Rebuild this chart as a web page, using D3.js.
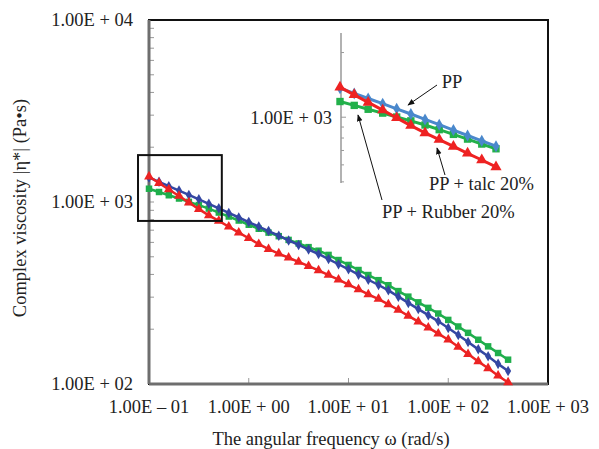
<!DOCTYPE html>
<html>
<head>
<meta charset="utf-8">
<script src="https://cdn.jsdelivr.net/npm/d3@7"></script>
<style>
  html, body { margin: 0; padding: 0; background: #fff; }
  svg { display: block; font-family: "Liberation Serif", "Times New Roman", serif; }
</style>
</head>
<body>
<svg id="chart" width="599" height="449"></svg>
<script>
// Angular frequency sweep (rad/s), 10 points per decade
const omega = [0.1, 0.126, 0.158, 0.2, 0.251, 0.316, 0.398, 0.501, 0.631, 0.794,
  1, 1.26, 1.58, 2, 2.51, 3.16, 3.98, 5.01, 6.31, 7.94,
  10, 12.6, 15.8, 20, 25.1, 31.6, 39.8, 50.1, 63.1, 79.4,
  100, 126, 158, 200, 251, 316, 398];

// Complex viscosity |eta*| (Pa.s)
const etaPP = [1365, 1291, 1222, 1156, 1094, 1035, 977, 923, 871, 822,
  776, 733, 692, 653, 615, 581, 548, 518, 486, 455,
  427, 399, 374, 350, 327, 302, 279, 258, 239, 221,
  203, 186, 170, 155, 142, 129, 118];
const etaTalc = [1380, 1271, 1172, 1079, 993, 914, 845, 787, 731, 679,
  632, 587, 551, 521, 494, 469, 444, 421, 397, 374,
  352, 331, 311, 293, 274, 255, 237, 220, 204, 189,
  175, 160, 146, 133, 122, 111, 102];
const etaRubber = [1183, 1135, 1089, 1045, 1002, 962, 920, 875, 832, 791,
  750, 713, 679, 649, 619, 592, 565, 540, 512, 480,
  451, 423, 397, 372, 349, 324, 302, 281, 262, 244,
  225, 207, 191, 175, 161, 148, 136];

const xTickValues = [0.1, 1, 10, 100, 1000];
const xTickLabels = ["1.00E \u2013 01", "1.00E + 00", "1.00E + 01", "1.00E + 02", "1.00E + 03"];
const yTickValues = [100, 1000, 10000];
const yTickLabels = ["1.00E + 02", "1.00E + 03", "1.00E + 04"];

// Region enlarged in the inset (omega range, viscosity range)
const zoomOmega = [0.0776, 0.537];
const zoomEta = [787, 1810];
const insetPoints = 12;   // first 12 frequencies shown in the inset
const insetEtaDomain = [494, 2466];
const insetTickValues = [500, 600, 700, 800, 900, 1000, 2000];

const FS = 18.5;
const svg = d3.select("#chart");
const x = d3.scaleLog().domain([0.1, 1000]).range([149, 548]);
const y = d3.scaleLog().domain([100, 10000]).range([384, 20]);

const colMain = { pp: "#3447a3", talc: "#ec2323", rubber: "#1fae4c" };
const colInset = { pp: "#4a88cc", talc: "#ee2222", rubber: "#22b04a" };

// frame
svg.append("rect")
  .attr("x", x(0.1)).attr("y", y(10000))
  .attr("width", x(1000) - x(0.1)).attr("height", y(100) - y(10000))
  .attr("fill", "none").attr("stroke", "#111").attr("stroke-width", 2);

// left axis with minor ticks
const yMinor = [];
[100, 1000].forEach(d => { for (let k = 1; k < 10; k++) yMinor.push(d * k); });
svg.append("g").selectAll("line").data(yMinor.filter(v => v > 100)).join("line")
  .attr("x1", x(0.1)).attr("x2", x(0.1) + 5)
  .attr("y1", d => y(d)).attr("y2", d => y(d))
  .attr("stroke", "#999").attr("stroke-width", 1);
svg.append("line")
  .attr("x1", x(0.1)).attr("x2", x(0.1)).attr("y1", y(10000)).attr("y2", y(100))
  .attr("stroke", "#6e6e6e").attr("stroke-width", 3);

// bottom axis
svg.append("g").selectAll("line").data(xTickValues.slice(1, 4)).join("line")
  .attr("x1", d => x(d)).attr("x2", d => x(d))
  .attr("y1", y(100)).attr("y2", y(100) - 6)
  .attr("stroke", "#999").attr("stroke-width", 1);
svg.append("line")
  .attr("x1", x(0.1)).attr("x2", x(1000)).attr("y1", y(100)).attr("y2", y(100))
  .attr("stroke", "#6e6e6e").attr("stroke-width", 3);

// tick labels
svg.append("g").selectAll("text").data(yTickValues).join("text")
  .attr("x", 133).attr("y", d => y(d)).attr("dy", "0.35em")
  .attr("text-anchor", "end").attr("font-size", FS).attr("fill", "#222")
  .text((d, i) => yTickLabels[i]);
svg.append("g").selectAll("text").data(xTickValues).join("text")
  .attr("x", d => x(d)).attr("y", 407).attr("dy", "0.35em")
  .attr("text-anchor", "middle").attr("font-size", FS).attr("fill", "#222")
  .text((d, i) => xTickLabels[i]);

// axis titles
svg.append("text")
  .attr("transform", "translate(20,208) rotate(-90)")
  .attr("text-anchor", "middle").attr("dy", "0.35em")
  .attr("font-size", FS).attr("fill", "#222")
  .text("Complex viscosity |\u03b7*|  (Pa\u2022s)");
svg.append("text")
  .attr("x", 331).attr("y", 439).attr("dy", "0.35em")
  .attr("text-anchor", "middle").attr("font-size", FS).attr("fill", "#222")
  .text("The angular frequency \u03c9  (rad/s)");

// series
const series = [
  { key: "rubber", values: etaRubber, symbol: d3.symbolSquare, size: 42 },
  { key: "pp", values: etaPP, symbol: d3.symbolDiamond, size: 32 },
  { key: "talc", values: etaTalc, symbol: d3.symbolTriangle, size: 42 }
];

function drawSeries(g, sx, sy, n, colors, lw, scale) {
  series.forEach(s => {
    const pts = omega.slice(0, n).map((w, i) => [w, s.values[i]]);
    g.append("path").datum(pts)
      .attr("fill", "none").attr("stroke", colors[s.key]).attr("stroke-width", lw)
      .attr("d", d3.line().x(d => sx(d[0])).y(d => sy(d[1])));
    g.append("g").selectAll("path").data(pts).join("path")
      .attr("transform", d => `translate(${sx(d[0])},${sy(d[1])})`)
      .attr("d", d3.symbol().type(s.symbol).size(s.size * scale))
      .attr("fill", colors[s.key]);
  });
}

drawSeries(svg.append("g"), x, y, omega.length, colMain, 2.5, 1);

// zoom box
svg.append("rect")
  .attr("x", x(zoomOmega[0])).attr("y", y(zoomEta[1]))
  .attr("width", x(zoomOmega[1]) - x(zoomOmega[0]))
  .attr("height", y(zoomEta[0]) - y(zoomEta[1]))
  .attr("fill", "none").attr("stroke", "#111").attr("stroke-width", 2);

// inset
const ix = d3.scaleLog().domain([0.1, omega[insetPoints - 1]]).range([340, 496]);
const iy = d3.scaleLog().domain(insetEtaDomain).range([183, 33]);
const inset = svg.append("g");
inset.append("line")
  .attr("x1", 341).attr("x2", 341).attr("y1", iy(insetEtaDomain[1])).attr("y2", iy(insetEtaDomain[0]))
  .attr("stroke", "#999").attr("stroke-width", 1.5);
inset.append("g").selectAll("line").data(insetTickValues).join("line")
  .attr("x1", 341).attr("x2", d => d === 1000 ? 346 : 344)
  .attr("y1", d => iy(d)).attr("y2", d => iy(d))
  .attr("stroke", "#999").attr("stroke-width", 1);
inset.append("text")
  .attr("x", 332).attr("y", iy(1000)).attr("dy", "0.35em")
  .attr("text-anchor", "end").attr("font-size", FS).attr("fill", "#222")
  .text("1.00E + 03");
drawSeries(inset, ix, iy, insetPoints, colInset, 3, 1.3);

// labels with arrows
const defs = svg.append("defs");
defs.append("marker").attr("id", "arrow")
  .attr("viewBox", "0 0 10 10").attr("refX", 9).attr("refY", 5)
  .attr("markerWidth", 7).attr("markerHeight", 7).attr("orient", "auto")
  .append("path").attr("d", "M0,1 L10,5 L0,9 Z").attr("fill", "#111");

const notes = [
  { text: "PP", tx: 452, ty: 82, anchor: "middle", from: [437, 85], to: [408, 105] },
  { text: "PP + talc 20%", tx: 429, ty: 184, anchor: "start", from: [445, 175], to: [437, 148] },
  { text: "PP + Rubber 20%", tx: 382, ty: 212, anchor: "start", from: [382, 200], to: [358, 115] }
];
notes.forEach(n => {
  svg.append("line")
    .attr("x1", n.from[0]).attr("y1", n.from[1]).attr("x2", n.to[0]).attr("y2", n.to[1])
    .attr("stroke", "#111").attr("stroke-width", 1).attr("marker-end", "url(#arrow)");
  svg.append("text")
    .attr("x", n.tx).attr("y", n.ty).attr("dy", "0.35em")
    .attr("text-anchor", n.anchor).attr("font-size", FS).attr("fill", "#222")
    .text(n.text);
});
</script>
</body>
</html>
